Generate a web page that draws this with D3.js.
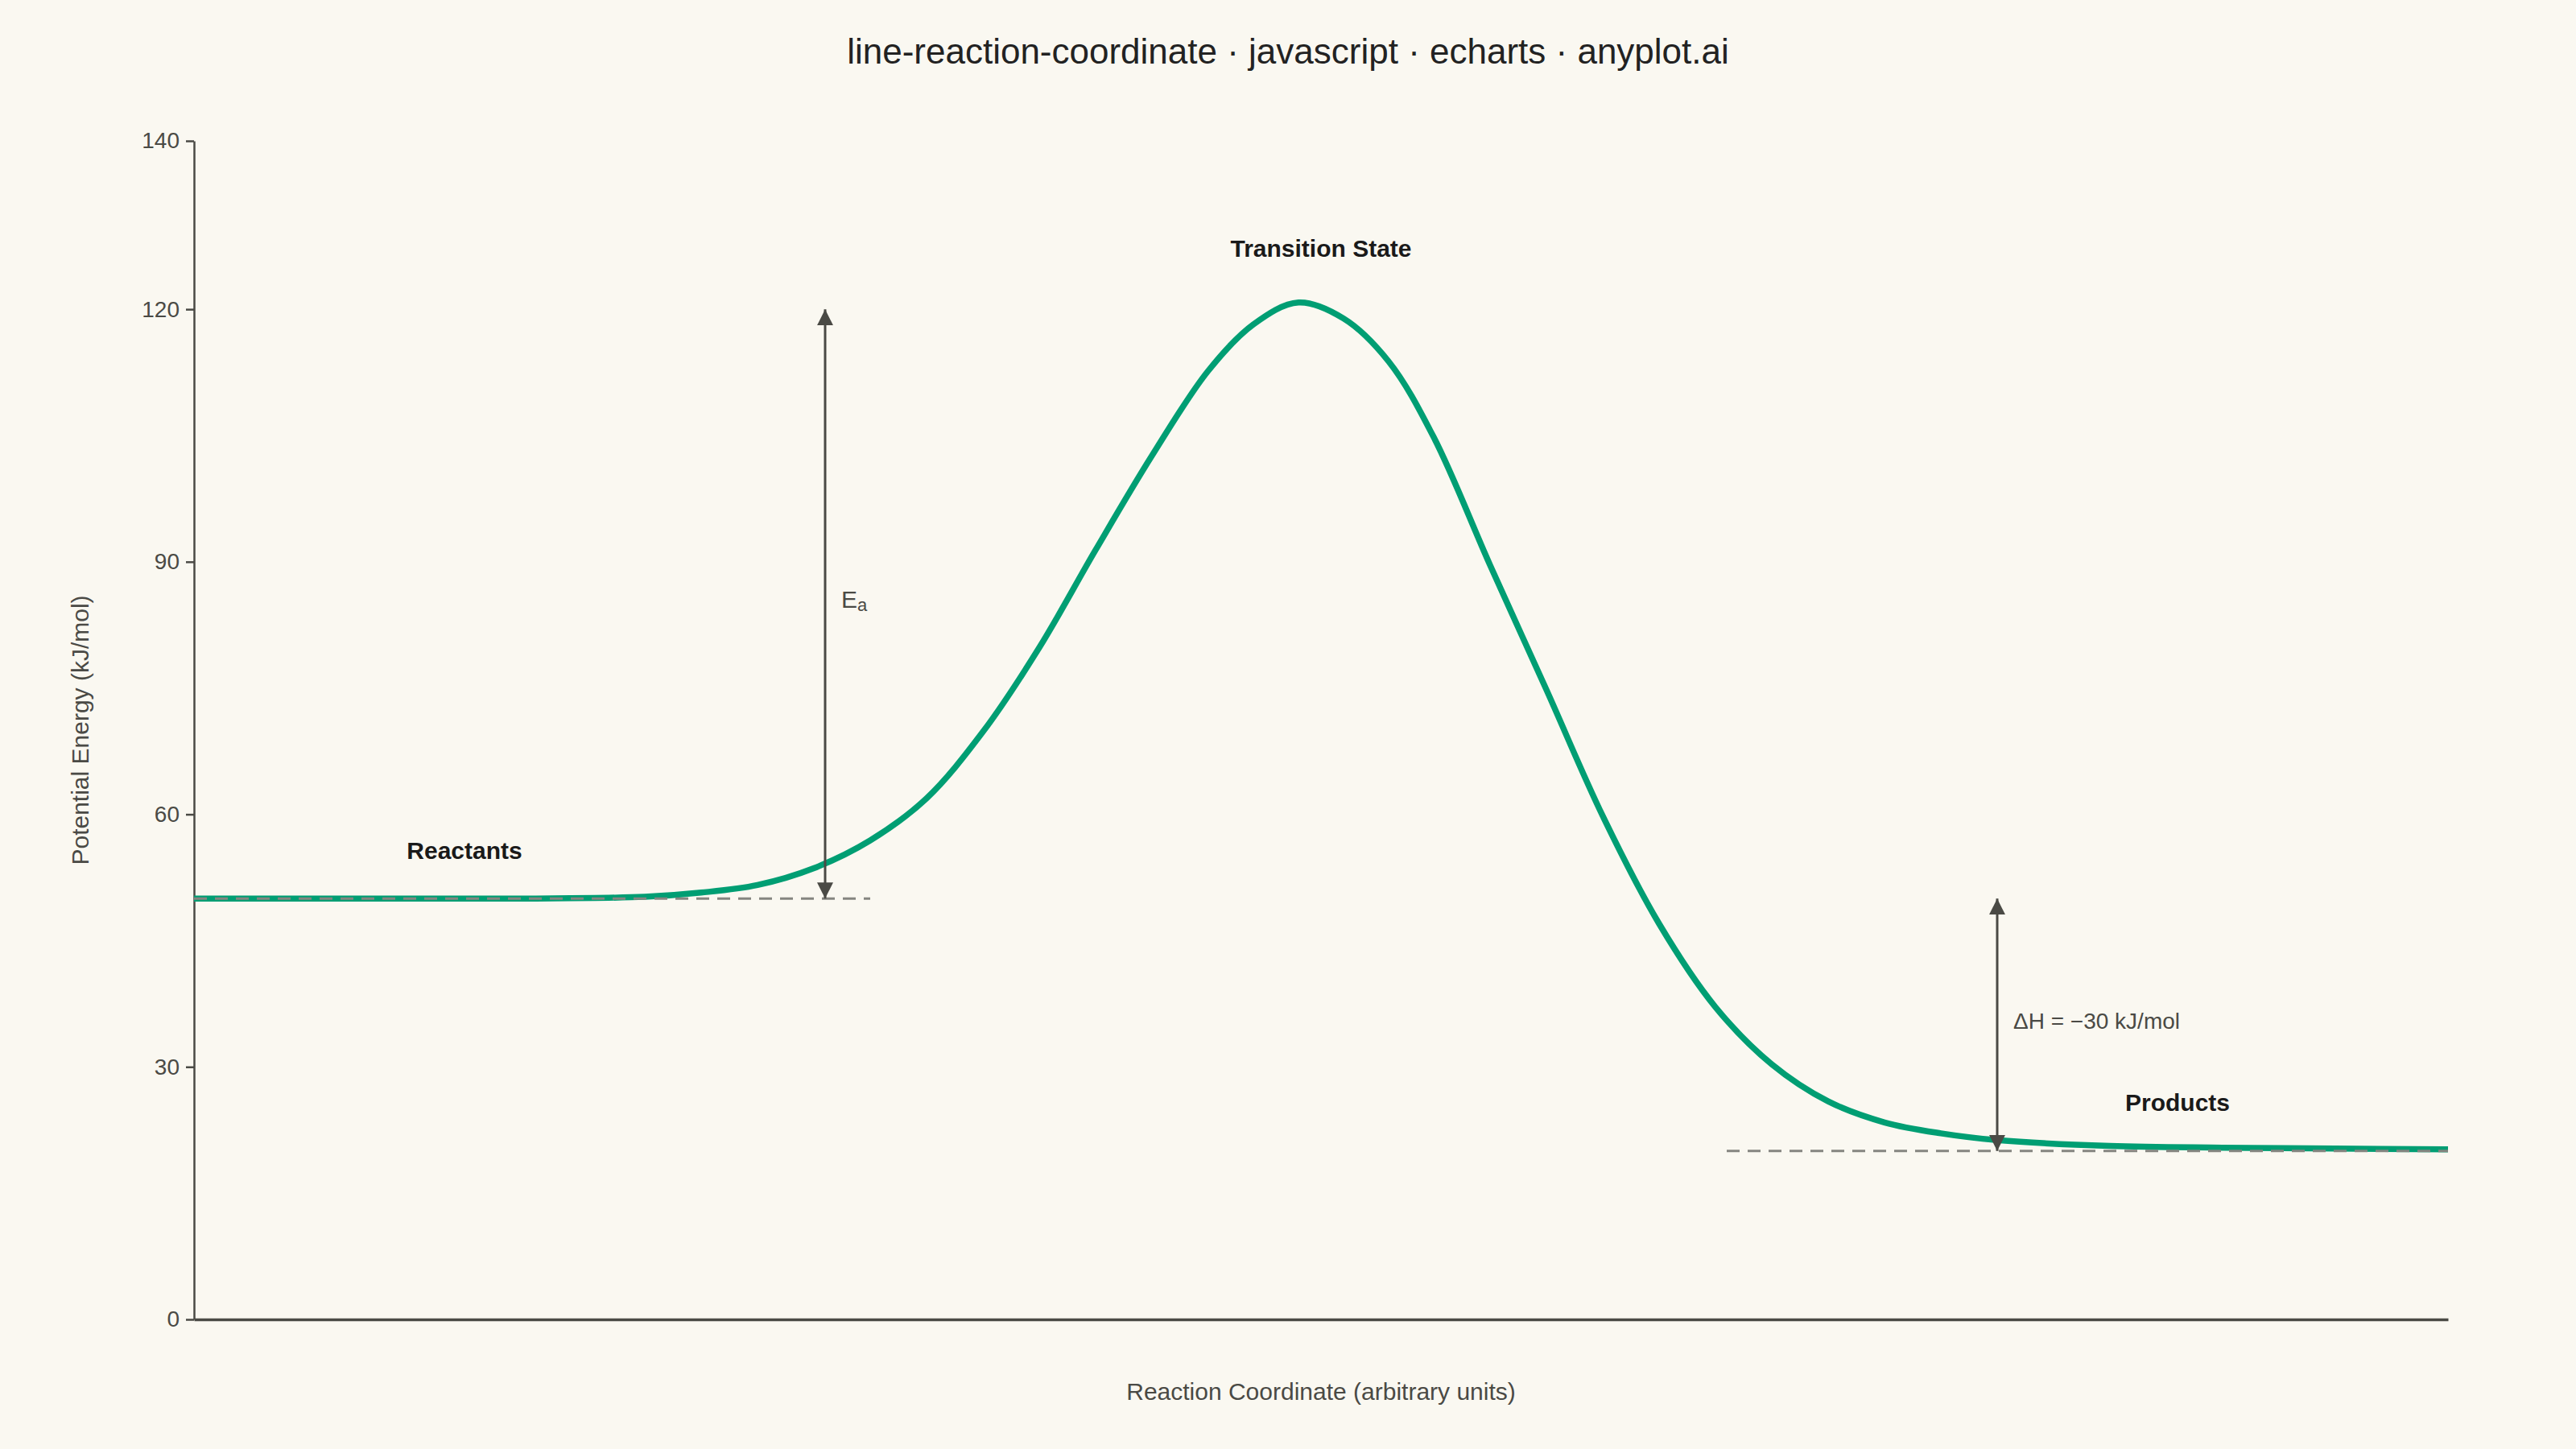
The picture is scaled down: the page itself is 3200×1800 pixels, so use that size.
<!DOCTYPE html>
<html lang="en">

<head>
    <meta charset="UTF-8">
    <title>line-reaction-coordinate</title>
    <style>
        body {
            margin: 0;
            background: #faf8f1;
        }

        svg text {
            font-family: "Liberation Sans", Arial, sans-serif;
        }

        .axis path,
        .axis line {
            stroke: #4a4a45;
        }

        .axis text {
            fill: #4a4a45;
            font-size: 28px;
        }
    </style>
</head>

<body>
    <div id="chart"></div>

    <script src="https://d3js.org/d3.v7.min.js"></script>
    <script>
        "use strict";

        // energy profile (reaction coordinate, kJ/mol)
        const coord = [0, 0.5, 1, 1.5, 2, 2.25, 2.5, 2.75, 3, 3.25, 3.5, 3.75, 4, 4.25, 4.5, 4.7, 4.9,
            5.1, 5.3, 5.5, 5.75, 6, 6.25, 6.5, 6.75, 7, 7.25, 7.5, 7.75, 8, 8.5, 9, 9.5, 10];
        const energy = [50, 50, 50, 50, 50.2, 50.7, 51.6, 53.6, 56.9, 61.9, 69.8, 79.8, 91.4, 102.6, 112.7, 118.2, 120.8,
            118.9, 113.8, 104.8, 89.6, 74.8, 59.8, 47.0, 37.1, 30.3, 25.9, 23.4, 22.1, 21.3, 20.6, 20.4, 20.3, 20.2];

        const yTicks = [0, 30, 60, 90, 120, 140];

        // reference levels: [x start, x end, energy]
        const levelLines = [[0, 3, 50], [6.8, 10, 20]];
        // double arrows: [x, from, to, label, label y]
        const arrows = [[2.8, 50, 120, "Ea", 85.3], [8, 50, 20, "ΔH = −30 kJ/mol", 35.2]];
        // state labels: [text, x, y]
        const stateLabels = [["Reactants", 1.2, 55.5], ["Transition State", 5, 127], ["Products", 8.8, 25.5]];

        const width = 3200, height = 1800;
        const margin = { top: 175, right: 159, bottom: 161, left: 241 };

        const svg = d3.select("#chart").append("svg")
            .attr("width", width)
            .attr("height", height)
            .style("background", "#faf8f1");

        const x = d3.scaleLinear().domain([0, 10]).range([margin.left, width - margin.right]);
        const y = d3.scaleLinear().domain([0, 140]).range([height - margin.bottom, margin.top]);

        svg.append("defs").selectAll("marker")
            .data(["tip"])
            .join("marker")
            .attr("id", d => d)
            .attr("viewBox", "0 0 20 20")
            .attr("refX", 20)
            .attr("refY", 10)
            .attr("markerUnits", "userSpaceOnUse")
            .attr("markerWidth", 20)
            .attr("markerHeight", 20)
            .attr("orient", "auto-start-reverse")
            .append("path")
            .attr("d", "M0,0L20,10L0,20Z")
            .attr("fill", "#4a4a45");

        // title
        svg.append("text")
            .attr("x", width / 2)
            .attr("y", 67)
            .attr("text-anchor", "middle")
            .attr("dominant-baseline", "middle")
            .style("font-size", "44px")
            .style("fill", "#222")
            .text("line-reaction-coordinate · javascript · echarts · anyplot.ai");

        // axes
        const yAxis = svg.append("g")
            .attr("class", "axis")
            .attr("transform", "translate(" + margin.left + ",0)")
            .call(d3.axisLeft(y).tickValues(yTicks).tickSize(10).tickPadding(8).tickSizeOuter(0));
        yAxis.select(".domain").attr("stroke-width", 2.5);
        yAxis.selectAll(".tick line").attr("stroke-width", 2.5);

        const xAxis = svg.append("g")
            .attr("class", "axis")
            .attr("transform", "translate(0," + y(0) + ")")
            .call(d3.axisBottom(x).tickValues([]).tickSizeOuter(0));
        xAxis.select(".domain").attr("stroke-width", 3.5);

        svg.append("text")
            .attr("transform", "translate(102," + (margin.top + y(0)) / 2 + ") rotate(-90)")
            .attr("text-anchor", "middle")
            .attr("dominant-baseline", "middle")
            .style("font-size", "30px")
            .style("fill", "#4a4a45")
            .text("Potential Energy (kJ/mol)");

        svg.append("text")
            .attr("x", (x(0) + x(10)) / 2)
            .attr("y", 1731)
            .attr("text-anchor", "middle")
            .attr("dominant-baseline", "middle")
            .style("font-size", "30px")
            .style("fill", "#4a4a45")
            .text("Reaction Coordinate (arbitrary units)");

        // energy curve
        const line = d3.line()
            .x(d => x(d[0]))
            .y(d => y(d[1]))
            .curve(d3.curveCatmullRom.alpha(0.5));

        svg.append("path")
            .datum(coord.map((c, i) => [c, energy[i]]))
            .attr("fill", "none")
            .attr("stroke", "#009e73")
            .attr("stroke-width", 7.5)
            .attr("stroke-linejoin", "round")
            .attr("d", line);

        // dashed reference levels
        svg.selectAll(".level")
            .data(levelLines)
            .join("line")
            .attr("class", "level")
            .attr("x1", d => x(d[0]))
            .attr("x2", d => x(d[1]))
            .attr("y1", d => y(d[2]))
            .attr("y2", d => y(d[2]))
            .attr("stroke", "#858580")
            .attr("stroke-width", 3)
            .attr("stroke-dasharray", "16,10");

        // Ea / dH arrows
        svg.selectAll(".arrow")
            .data(arrows)
            .join("line")
            .attr("class", "arrow")
            .attr("x1", d => x(d[0]))
            .attr("x2", d => x(d[0]))
            .attr("y1", d => y(d[1]))
            .attr("y2", d => y(d[2]))
            .attr("stroke", "#4a4a45")
            .attr("stroke-width", 3)
            .attr("marker-start", "url(#tip)")
            .attr("marker-end", "url(#tip)");

        const arrowText = svg.selectAll(".arrow-label")
            .data(arrows)
            .join("text")
            .attr("class", "arrow-label")
            .attr("x", d => x(d[0]) + 20)
            .attr("y", d => y(d[4]))
            .attr("dominant-baseline", "middle")
            .style("font-size", d => d[3] === "Ea" ? "30px" : "28px")
            .style("fill", "#4a4a45");

        arrowText.each(function (d) {
            const t = d3.select(this);
            if (d[3] === "Ea") {
                t.append("tspan").text("E");
                t.append("tspan").attr("dy", 6).style("font-size", "22px").text("a");
            } else {
                t.text(d[3]);
            }
        });

        // state labels
        svg.selectAll(".state")
            .data(stateLabels)
            .join("text")
            .attr("class", "state")
            .attr("x", d => x(d[1]))
            .attr("y", d => y(d[2]))
            .attr("text-anchor", "middle")
            .attr("dominant-baseline", "middle")
            .style("font-size", "30px")
            .style("font-weight", "bold")
            .style("fill", "#1a1a1a")
            .text(d => d[0]);
    </script>
</body>

</html>
